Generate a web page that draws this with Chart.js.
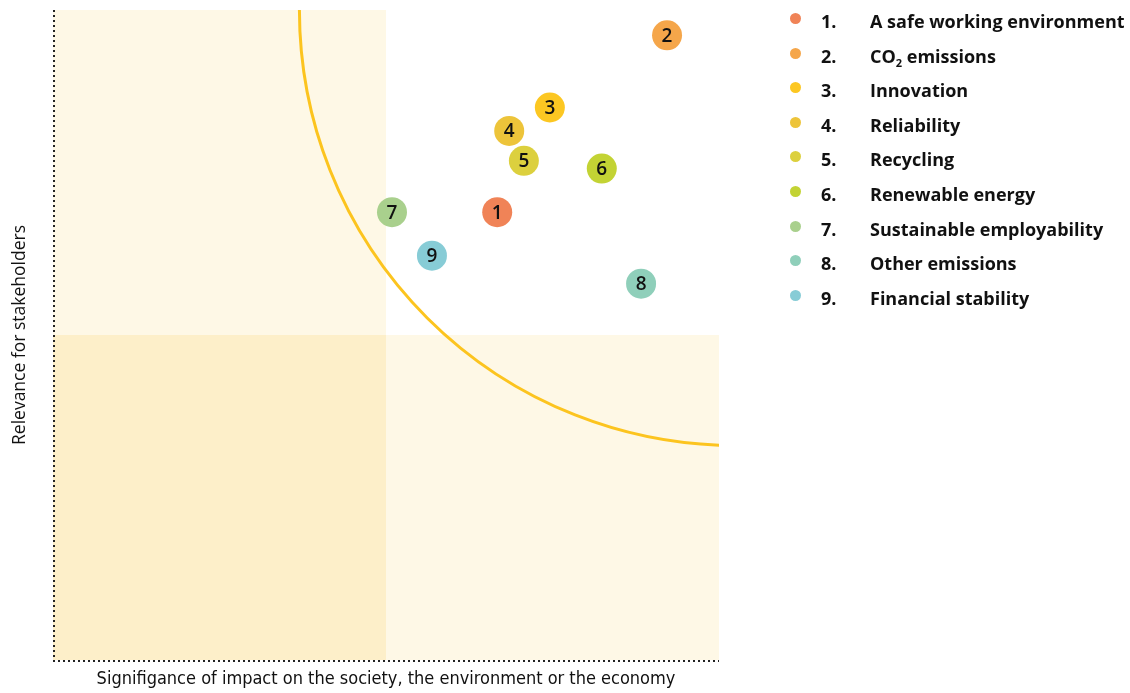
<!DOCTYPE html>
<html>
<head>
<meta charset="utf-8">
<script src="https://cdn.jsdelivr.net/npm/chart.js@4.4.1/dist/chart.umd.min.js"></script>
<style>
  html, body { margin: 0; padding: 0; background: #ffffff; }
  #wrap { position: relative; width: 1130px; height: 693px; overflow: hidden; }
  #chartBox { position: absolute; left: 0; top: 0; width: 1130px; height: 693px; }
  #legend { position: absolute; left: 788px; top: 4px; font-family: "Open Sans", Lato, sans-serif; font-weight: 700; font-size: 18px; color: #111; }
  .row { position: relative; height: 34.6px; line-height: 34.6px; white-space: nowrap; }
  .dot { position: absolute; left: 2px; top: 9px; width: 11px; height: 11px; border-radius: 50%; }
  .num { position: absolute; left: 33px; }
  .lab { position: absolute; left: 82px; }
  sub { font-size: 11px; vertical-align: -4px; line-height: 0; }
</style>
</head>
<body>
<div id="wrap">
  <div id="chartBox"><canvas id="c"></canvas></div>
  <div id="legend"></div>
</div>
<script>
// ---- data ----
const categories = [
  'A safe working environment',
  'CO₂ emissions',
  'Innovation',
  'Reliability',
  'Recycling',
  'Renewable energy',
  'Sustainable employability',
  'Other emissions',
  'Financial stability'
];
const pointLabels = ['1', '2', '3', '4', '5', '6', '7', '8', '9'];
// Significance of impact (x)
const impactValues = [6.67, 9.22, 7.46, 6.85, 7.07, 8.24, 5.09, 8.83, 5.69];
// Relevance for stakeholders (y)
const relevanceValues = [6.89, 9.61, 8.50, 8.14, 7.68, 7.56, 6.89, 5.79, 6.22];
const pointColors = ['#f08357', '#f5a64a', '#fcc722', '#edc43a', '#dcd03e', '#c3d334', '#a9d08d', '#8fcfba', '#87ccd6'];
// axis range and quadrant split
const axisMin = 0, axisMax = 10, quadrantSplit = 5;
// materiality threshold curve (ellipse in data units)
const thresholdCenter = [10.25, 10];
const thresholdRadius = [6.55, 6.7];

const xTitle = 'Signifigance of impact on the society, the environment or the economy';
const yTitle = 'Relevance for stakeholders';

// ---- legend (HTML) ----
const legendEl = document.getElementById('legend');
categories.forEach((c, i) => {
  const row = document.createElement('div');
  row.className = 'row';
  const dot = document.createElement('span');
  dot.className = 'dot';
  dot.style.background = pointColors[i];
  const num = document.createElement('span');
  num.className = 'num';
  num.textContent = pointLabels[i] + '.';
  const lab = document.createElement('span');
  lab.className = 'lab';
  if (c.indexOf('₂') >= 0) {
    const parts = c.split('₂');
    lab.appendChild(document.createTextNode(parts[0]));
    const s = document.createElement('sub'); s.textContent = '2';
    lab.appendChild(s);
    lab.appendChild(document.createTextNode(parts[1]));
  } else {
    lab.textContent = c;
  }
  row.appendChild(dot); row.appendChild(num); row.appendChild(lab);
  legendEl.appendChild(row);
});

// ---- plugins ----
const quadrantPlugin = {
  id: 'quadrants',
  beforeDatasetsDraw(chart) {
    const {ctx, scales: {x, y}} = chart;
    const x0 = x.getPixelForValue(axisMin), x1 = x.getPixelForValue(quadrantSplit), x2 = x.getPixelForValue(axisMax);
    const y0 = y.getPixelForValue(axisMin), y1 = y.getPixelForValue(quadrantSplit), y2 = y.getPixelForValue(axisMax);
    ctx.save();
    ctx.fillStyle = '#fef8e6';
    ctx.fillRect(x0, y2, x1 - x0, y1 - y2);   // top-left
    ctx.fillRect(x1, y1, x2 - x1, y0 - y1);   // bottom-right
    ctx.fillStyle = '#fdefc9';
    ctx.fillRect(x0, y1, x1 - x0, y0 - y1);   // bottom-left
    // dotted axes
    ctx.strokeStyle = '#222';
    ctx.lineWidth = 2;
    ctx.setLineDash([2, 3]);
    ctx.beginPath();
    ctx.moveTo(x0 + 1, y2);
    ctx.lineTo(x0 + 1, y0 + 1);
    ctx.moveTo(x0, y0 + 1);
    ctx.lineTo(x2, y0 + 1);
    ctx.stroke();
    ctx.setLineDash([]);
    // threshold curve
    const a = chart.chartArea;
    ctx.beginPath();
    ctx.rect(a.left, a.top, a.right - a.left, a.bottom - a.top);
    ctx.clip();
    const cx = x.getPixelForValue(thresholdCenter[0]);
    const cy = y.getPixelForValue(thresholdCenter[1]);
    const rx = Math.abs(x.getPixelForValue(thresholdCenter[0] - thresholdRadius[0]) - cx);
    const ry = Math.abs(y.getPixelForValue(thresholdCenter[1] - thresholdRadius[1]) - cy);
    ctx.beginPath();
    ctx.ellipse(cx, cy, rx, ry, 0, 0, Math.PI * 2);
    ctx.strokeStyle = '#fcc41f';
    ctx.lineWidth = 3;
    ctx.stroke();
    ctx.restore();
  }
};

const labelPlugin = {
  id: 'pointNumbers',
  afterDatasetsDraw(chart) {
    const {ctx} = chart;
    const meta = chart.getDatasetMeta(0);
    ctx.save();
    ctx.fillStyle = '#111';
    ctx.font = '600 19px "Open Sans", Lato, sans-serif';
    ctx.textAlign = 'center';
    ctx.textBaseline = 'middle';
    meta.data.forEach((pt, i) => {
      ctx.fillText(pointLabels[i], pt.x, pt.y + 1);
    });
    ctx.restore();
  }
};

// ---- chart ----
const data = {
  datasets: [{
    label: 'Topics',
    data: impactValues.map((v, i) => ({x: v, y: relevanceValues[i]})),
    backgroundColor: pointColors,
    borderWidth: 0,
    pointRadius: 15,
    pointHoverRadius: 15,
    clip: false
  }]
};

new Chart(document.getElementById('c'), {
  type: 'scatter',
  data,
  options: {
    responsive: true,
    maintainAspectRatio: false,
    animation: false,
    layout: { autoPadding: false, padding: { top: 10, right: 411, left: 0, bottom: 0 } },
    plugins: { legend: { display: false }, tooltip: { enabled: false } },
    scales: {
      x: {
        min: axisMin, max: axisMax,
        grid: { display: false, drawTicks: false },
        ticks: { display: false },
        border: { display: false },
        title: { display: true, text: xTitle, color: '#111', padding: { top: 0, bottom: 3 },
          font: { family: '"Liberation Sans Narrow", "DejaVu Sans Condensed", "Open Sans", sans-serif', size: 18 } },
        afterFit(s) { s.height = 33; }
      },
      y: {
        min: axisMin, max: axisMax,
        grid: { display: false, drawTicks: false },
        ticks: { display: false },
        border: { display: false },
        title: { display: true, text: yTitle, color: '#111', padding: { top: 10, bottom: 0 },
          font: { family: '"Open Sans", Lato, sans-serif', size: 17.5 } },
        afterFit(s) { s.width = 53; }
      }
    }
  },
  plugins: [quadrantPlugin, labelPlugin]
});
</script>
</body>
</html>
